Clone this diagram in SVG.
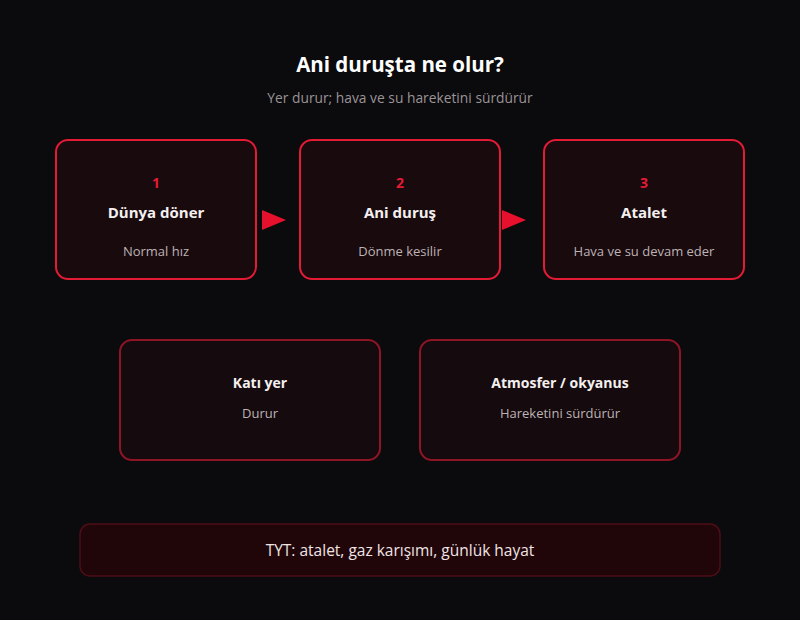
<svg xmlns="http://www.w3.org/2000/svg" width="800" height="620" viewBox="0 0 800 620">
<defs>
<style>
text{font-family:"Open Sans","Noto Sans","Liberation Sans",sans-serif;text-anchor:middle}
.step{fill:#190a0e;stroke:#e31b34;stroke-width:2}
.sub{fill:#150a0d;stroke:#8e1526;stroke-width:2}
.foot{fill:#200609;stroke:#4d0e18;stroke-width:1.5}
.num{fill:#e31b34;font-size:14px;font-weight:700}
.ttl{fill:#f5f0f0;font-size:15px;font-weight:700}
.desc{fill:#bdb3b5;font-size:13px}
.arrow{fill:#e8112d}
</style>
</defs>
<rect width="800" height="620" fill="#0b0a0d"/>
<text x="400" y="72" style="font-size:20.5px;font-weight:700;fill:#ffffff">Ani duruşta ne olur?</text>
<text x="400" y="103" style="font-size:13.8px;fill:#9a9496">Yer durur; hava ve su hareketini sürdürür</text>
<g id="node1">
<rect class="step" x="56" y="140" width="200" height="139" rx="12"/>
<text class="num" x="156" y="188">1</text>
<text class="ttl" x="156" y="218">Dünya döner</text>
<text class="desc" x="156" y="256">Normal hız</text>
</g>
<g id="node2">
<rect class="step" x="300" y="140" width="200" height="139" rx="12"/>
<text class="num" x="400" y="188">2</text>
<text class="ttl" x="400" y="218">Ani duruş</text>
<text class="desc" x="400" y="256">Dönme kesilir</text>
</g>
<g id="node3">
<rect class="step" x="544" y="140" width="200" height="139" rx="12"/>
<text class="num" x="644" y="188">3</text>
<text class="ttl" x="644" y="218">Atalet</text>
<text class="desc" x="644" y="256">Hava ve su devam eder</text>
</g>
<g id="connectors">
<polygon class="arrow" points="262,210 286,220 262,230"/>
<polygon class="arrow" points="502,210 526,220 502,230"/>
</g>
<g id="node4">
<rect class="sub" x="120" y="340" width="260" height="120" rx="12"/>
<text class="ttl" x="260" y="388" style="font-size:14px">Katı yer</text>
<text class="desc" x="260" y="418">Durur</text>
</g>
<g id="node5">
<rect class="sub" x="420" y="340" width="260" height="120" rx="12"/>
<text class="ttl" x="560" y="388" style="font-size:14px">Atmosfer / okyanus</text>
<text class="desc" x="560" y="418">Hareketini sürdürür</text>
</g>
<g id="footer">
<rect class="foot" x="80" y="524" width="640" height="52" rx="10"/>
<text x="400" y="556" style="font-size:15.5px;fill:#f0e4e6">TYT: atalet, gaz karışımı, günlük hayat</text>
</g>
</svg>
